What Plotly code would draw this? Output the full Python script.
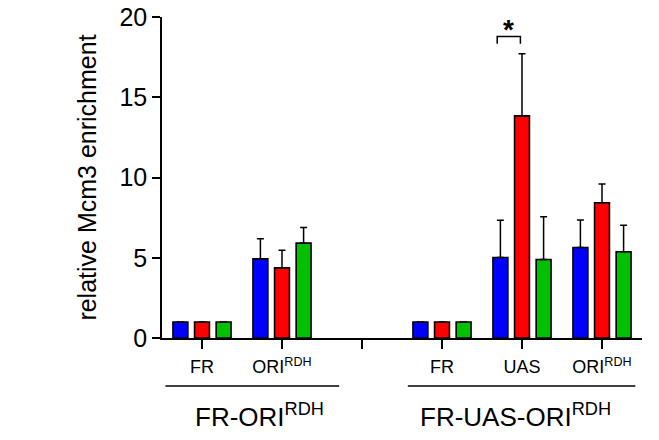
import plotly.graph_objects as go

positions = [0, 1, 3, 4, 5]
tick_positions = [0, 1, 2, 3, 4, 5]
tick_labels = ["FR", "ORI<sup>RDH</sup>", "", "FR", "UAS", "ORI<sup>RDH</sup>"]

series_names = ["blue", "red", "green"]
colors = ["#0000FF", "#FF0000", "#00C000"]
values = {
    "blue": [1.0, 4.93, 1.0, 5.02, 5.64],
    "red": [1.0, 4.37, 1.0, 13.84, 8.43],
    "green": [1.0, 5.91, 1.0, 4.89, 5.37],
}
errors = {
    "blue": [0.0, 1.25, 0.0, 2.31, 1.71],
    "red": [0.0, 1.10, 0.0, 3.87, 1.16],
    "green": [0.0, 0.98, 0.0, 2.66, 1.65],
}

group_labels = ["FR-ORI<sup>RDH</sup>", "FR-UAS-ORI<sup>RDH</sup>"]
group_centers = [0.72, 3.92]
group_spans = [(-0.457, 1.714), (2.573, 5.417)]

FONT = "Liberation Sans, Arial, sans-serif"

fig = go.Figure()
for name, col in zip(series_names, colors):
    fig.add_trace(go.Bar(
        x=positions, y=values[name], name=name,
        marker=dict(color=col, line=dict(color="black", width=1.6)),
        error_y=dict(type="data", array=errors[name], arrayminus=[0]*5,
                     symmetric=False, color="black", thickness=1.5, width=3.5),
        showlegend=False,
    ))

fig.update_layout(
    barmode="group", bargap=0.19, bargroupgap=0.31,
    width=659, height=440,
    margin=dict(l=162, r=17, t=17, b=102, autoexpand=False),
    plot_bgcolor="white", paper_bgcolor="white",
    font=dict(family=FONT, color="black"),
)
fig.update_xaxes(
    range=[-0.5, 5.5], tickvals=tick_positions, ticktext=tick_labels,
    showline=True, linecolor="black", linewidth=1.5,
    ticks="outside", ticklen=9, tickwidth=1.5, tickcolor="black",
    tickfont=dict(size=18, family=FONT), showgrid=False, zeroline=False,
    automargin=False, ticklabelstandoff=3,
)
fig.update_yaxes(
    range=[0, 20], tickvals=[0, 5, 10, 15, 20],
    showline=True, linecolor="black", linewidth=1.5,
    ticks="outside", ticklen=8, tickwidth=1.5, tickcolor="black",
    tickfont=dict(size=25, family=FONT), showgrid=False, zeroline=False,
    title=dict(text="relative Mcm3 enrichment", font=dict(size=25, family=FONT), standoff=16),
    automargin=False,
)

for (x0, x1) in group_spans:
    fig.add_shape(type="line", xref="x", yref="paper", x0=x0, x1=x1, y0=-0.1495, y1=-0.1495,
                  line=dict(color="black", width=1.5))
for lbl, xc in zip(group_labels, group_centers):
    fig.add_annotation(text=lbl, xref="x", yref="paper", x=xc, y=-0.24, showarrow=False,
                       font=dict(size=26, family=FONT), xanchor="center", yanchor="middle")

# significance bracket between UAS blue and red bars
bx0, bx1, by, byb = 3.69, 3.98, 18.79, 18.33
fig.add_shape(type="path", xref="x", yref="y",
              path=f"M {bx0},{byb} L {bx0},{by} L {bx1},{by} L {bx1},{byb}",
              line=dict(color="black", width=1.5))
fig.add_annotation(text="<b>*</b>", xref="x", yref="y", x=(bx0 + bx1) / 2, y=19.1,
                   showarrow=False, font=dict(size=28, family=FONT), yanchor="bottom", yshift=-16)

fig.write_html("out.html", config={"displayModeBar": False},
               post_script="document.body.style.margin='0px';")
